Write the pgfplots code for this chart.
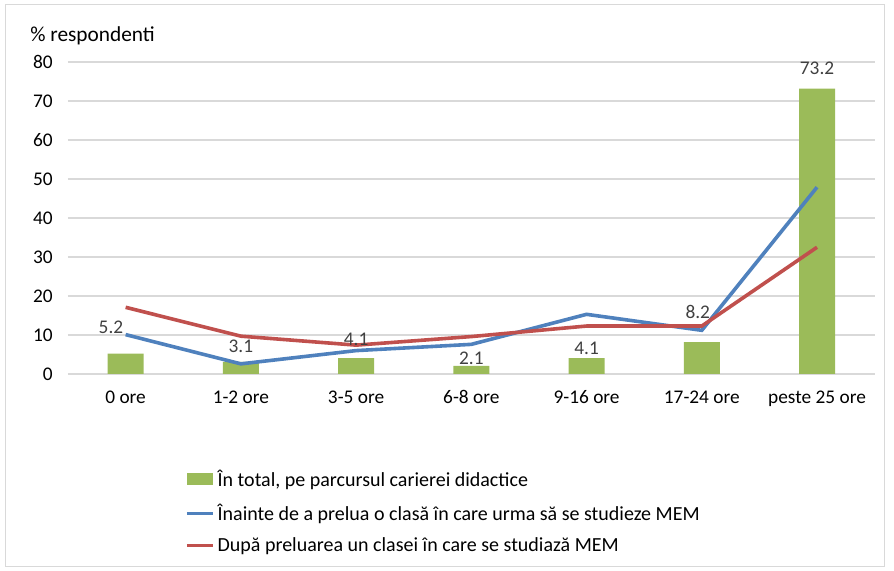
\documentclass[border=0pt]{standalone}
\usepackage{pgfplots}
\usepackage{pgfplotstable}
\pgfplotsset{compat=1.18}
\usepackage{fontspec}
\setmainfont{Carlito}
\definecolor{cgreen}{RGB}{155,187,89}
\definecolor{cblue}{RGB}{79,129,189}
\definecolor{cred}{RGB}{192,80,77}
\definecolor{cgrid}{RGB}{217,217,217}
\definecolor{ctext}{RGB}{64,64,64}
\pgfplotstableread{
x y dy dx
0 5.2 20 -11
1 3.1 12 0
2 4.1 14 0
3 2.1 6 0
4 4.1 7.5 0
5 8.2 22.5 -3
6 73.2 15 0
}\bars
\begin{document}
\begin{tikzpicture}
\path[use as bounding box] (-51pt,-147.75pt) rectangle (619.5pt,280.5pt);
\draw[cgrid] (-47pt,-144pt) rectangle (612pt,277pt);
\begin{axis}[
  at={(0,0)}, anchor=south west,
  scale only axis, width=605pt, height=234pt,
  xmin=-0.5, xmax=6.5, ymin=0, ymax=80,
  ytick={0,10,...,80},
  xtick={0,...,6},
  xticklabels={0 ore,1-2 ore,3-5 ore,6-8 ore,9-16 ore,17-24 ore,peste 25 ore},
  axis line style={draw=none},
  tick style={draw=none},
  ymajorgrids, grid style={cgrid, line width=0.8pt},
  every tick label/.append style={font=\fontsize{14.5}{17}\selectfont, text=black},
  yticklabel style={xshift=-8pt},
  xticklabel style={yshift=-9pt},
  /pgf/number format/assume math mode=true,
  legend style={at={(0.145,-0.30)}, anchor=north west, draw=none, fill=none, inner sep=0pt,
    font=\fontsize{15}{18}\selectfont, row sep=7.5pt, cells={anchor=west},
    /tikz/every even column/.append style={column sep=0pt}},
  legend cell align=left,
]
\addplot[ybar, bar width=27pt, fill=cgreen, draw=none,
  visualization depends on={\thisrow{dy} \as \dy},
  visualization depends on={\thisrow{dx} \as \dx},
  nodes near coords, every node near coord/.append style={font=\fontsize{14.5}{17}\selectfont, text=ctext, anchor=center, yshift=\dy pt, xshift=\dx pt},
  legend image code/.code={\fill[cgreen] (-0.1cm,-0.13cm) rectangle (0.6cm,0.17cm);}]
  table[x=x, y=y] {\bars};
\addlegendentry{În total, pe parcursul carierei didactice}
\addplot[cblue, line width=2.7pt, mark=none,
  legend image code/.code={\draw[cblue, line width=2.4pt] (-0.1cm,0cm) -- (0.6cm,0cm);}]
  coordinates {(0,10.1) (1,2.6) (2,6.0) (3,7.6) (4,15.3) (5,11.2) (6,47.9)};
\addlegendentry{Înainte de a prelua o clasă în care urma să se studieze MEM}
\addplot[cred, line width=2.7pt, mark=none,
  legend image code/.code={\draw[cred, line width=2.4pt] (-0.1cm,0cm) -- (0.6cm,0cm);}]
  coordinates {(0,17.1) (1,9.7) (2,7.4) (3,9.6) (4,12.3) (5,12.3) (6,32.5)};
\addlegendentry{După preluarea un clasei în care se studiază MEM}
\end{axis}
\node[anchor=west, inner sep=0pt, font=\fontsize{16}{19}\selectfont] at (-28.5pt,254pt) {\% respondenti};
\end{tikzpicture}
\end{document}
